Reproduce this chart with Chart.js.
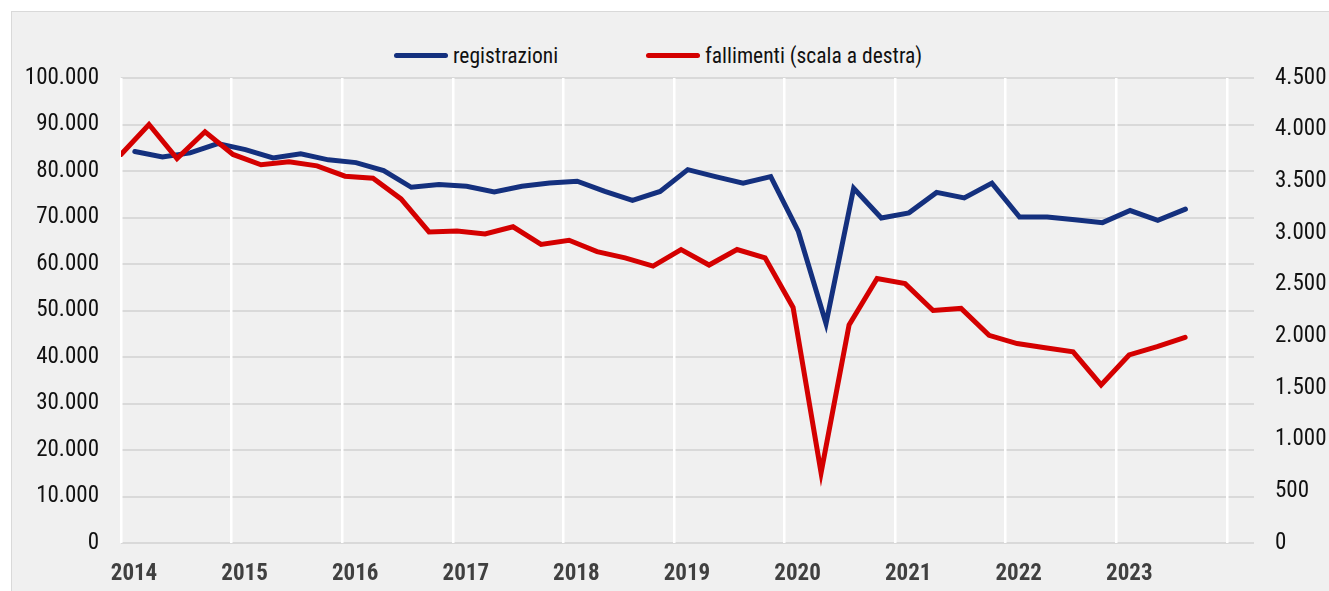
<!DOCTYPE html>
<html lang="it">
<head>
<meta charset="utf-8">
<title>Registrazioni e fallimenti di imprese</title>
<script src="https://cdn.jsdelivr.net/npm/chart.js@4/dist/chart.umd.min.js"></script>
<style>
    html, body { margin: 0; padding: 0; background: #fff; }
    #wrap { position: relative; width: 1329px; height: 591px; overflow: hidden; }
    #frame { position: absolute; left: 11px; top: 11px; right: -4px; bottom: -4px; background: #f0f0f0; border: 1px solid #d9d9d9; }
    #chart { position: absolute; left: 0; top: 0; }
    .item { position: absolute; top: 41px; height: 28px; display: flex; align-items: center; font-family: 'Roboto Condensed', 'Liberation Sans', sans-serif; font-size: 21.5px; color: #111; white-space: nowrap; }
    .swatch { width: 54px; height: 5px; border-radius: 3px; margin-right: 5px; }
</style>
</head>
<body>
<div id="wrap">
    <div id="frame"></div>
    <div class="item" style="left:394px"><span class="swatch" style="background:#14307e"></span><span>registrazioni</span></div>
    <div class="item" style="left:646px"><span class="swatch" style="background:#d40000"></span><span>fallimenti (scala a destra)</span></div>
    <canvas id="chart" width="1329" height="591"></canvas>
</div>
<script>
// quarterly data, 2014 T1 - 2023 T3
const quarters = [
    '2014 T1', '2014 T2', '2014 T3', '2014 T4',
    '2015 T1', '2015 T2', '2015 T3', '2015 T4',
    '2016 T1', '2016 T2', '2016 T3', '2016 T4',
    '2017 T1', '2017 T2', '2017 T3', '2017 T4',
    '2018 T1', '2018 T2', '2018 T3', '2018 T4',
    '2019 T1', '2019 T2', '2019 T3', '2019 T4',
    '2020 T1', '2020 T2', '2020 T3', '2020 T4',
    '2021 T1', '2021 T2', '2021 T3', '2021 T4',
    '2022 T1', '2022 T2', '2022 T3', '2022 T4',
    '2023 T1', '2023 T2', '2023 T3'
];
const registrazioni = [
    84200, 83000, 83900, 85900,
    84600, 82800, 83700, 82400,
    81800, 80100, 76500, 77100,
    76700, 75500, 76700, 77400,
    77800, 75600, 73700, 75600,
    80300, 78800, 77400, 78800,
    67000, 47200, 76300, 69900,
    71000, 75400, 74200, 77400,
    70100, 70100, 69500, 68900,
    71500, 69400, 71800
];
const fallimenti = [
    3760, 4050, 3720, 3980,
    3760, 3660, 3690, 3650,
    3550, 3530, 3330, 3010,
    3020, 2990, 3060, 2890,
    2930, 2820, 2760, 2680,
    2840, 2690, 2840, 2760,
    2280, 680, 2110, 2560,
    2510, 2250, 2270, 2010,
    1930, 1890, 1850, 1530,
    1820, 1900, 1990
];
const yearLabels = ['2014', '2015', '2016', '2017', '2018', '2019', '2020', '2021', '2022', '2023'];

const blue = '#14307e';
const red = '#d40000';
const fontFamily = "'Roboto Condensed', 'Liberation Sans', sans-serif";

// '2014 T2' -> middle of the quarter on a year axis
function quarterPosition(label) {
    const [year, q] = label.split(' T');
    return Number(year) + (Number(q) - 0.5) / 4;
}

// thousands with a dot, as in Italian
function formatNumber(v) {
    return String(v).replace(/\B(?=(\d{3})+(?!\d))/g, '.');
}

const ctx = document.getElementById('chart').getContext('2d');
new Chart(ctx, {
    type: 'line',
    data: {
        datasets: [
            {
                label: 'registrazioni',
                data: quarters.map((q, i) => ({ x: quarterPosition(q), y: registrazioni[i] })),
                borderColor: blue,
                backgroundColor: blue,
                borderWidth: 5,
                borderCapStyle: 'round',
                pointRadius: 0,
                tension: 0,
                xAxisID: 'x',
                yAxisID: 'y',
                order: 2
            },
            {
                label: 'fallimenti (scala a destra)',
                data: fallimenti.map((v, i) => ({ x: i, y: v })),
                borderColor: red,
                backgroundColor: red,
                borderWidth: 5,
                borderCapStyle: 'round',
                pointRadius: 0,
                tension: 0,
                xAxisID: 'x2',
                yAxisID: 'y1',
                order: 1
            }
        ]
    },
    options: {
        responsive: false,
        animation: false,
        layout: { padding: { top: 78, left: 0, right: 0, bottom: 0 } },
        plugins: {
            legend: { display: false },
            tooltip: { enabled: false }
        },
        scales: {
            x: {
                type: 'linear',
                position: 'bottom',
                min: 2014,
                max: 2024.245,
                grid: { color: '#ffffff', lineWidth: 2.5, drawTicks: false, z: -1 },
                border: { display: false },
                ticks: {
                    stepSize: 1,
                    includeBounds: false,
                    autoSkip: false,
                    maxRotation: 0,
                    labelOffset: 13,
                    padding: 17,
                    color: '#404040',
                    font: { family: fontFamily, size: 23, weight: 'bold' },
                    callback: v => yearLabels.includes(String(v)) ? String(v) : ''
                },
                afterFit: scale => { scale.height = 48; }
            },
            // secondary category axis used by the red series
            x2: {
                type: 'linear',
                display: false,
                min: 0,
                max: 40.46
            },
            y: {
                position: 'left',
                min: 0,
                max: 100000,
                grid: { color: '#d9d9d9', lineWidth: 2, drawTicks: false, z: -2 },
                border: { display: false },
                ticks: {
                    stepSize: 10000,
                    padding: 22,
                    color: '#111111',
                    font: { family: fontFamily, size: 23 },
                    callback: v => formatNumber(v)
                },
                afterFit: scale => { scale.width = 121; }
            },
            y1: {
                position: 'right',
                min: 0,
                max: 4500,
                grid: { display: false, drawTicks: false },
                border: { display: false },
                ticks: {
                    stepSize: 500,
                    padding: 21,
                    color: '#111111',
                    font: { family: fontFamily, size: 23 },
                    callback: v => formatNumber(v)
                },
                afterFit: scale => { scale.width = 75; }
            }
        }
    }
});
</script>
</body>
</html>
